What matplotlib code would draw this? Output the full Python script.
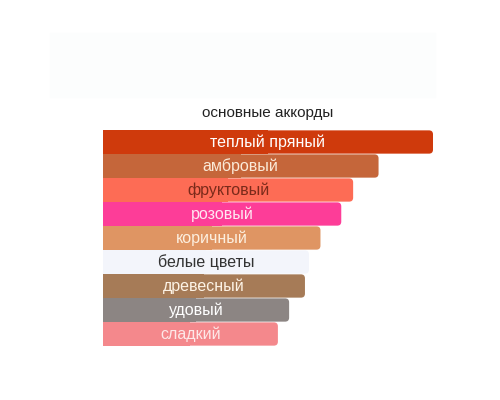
import matplotlib
matplotlib.use("Agg")
import matplotlib.pyplot as plt
from matplotlib.patches import FancyBboxPatch, Rectangle

plt.rcParams["font.family"] = ["Liberation Sans", "DejaVu Sans"]

# Accords and their relative strength (longest = 100)
accords = ["теплый пряный", "амбровый", "фруктовый", "розовый", "коричный",
           "белые цветы", "древесный", "удовый", "сладкий"]
values = [100, 83.5, 75.8, 72.2, 65.9, 62.4, 61.2, 56.4, 53.0]
colors = ["#cf3a0c", "#c5663a", "#fd6c55", "#fd3d98", "#df9563",
          "#f3f5fb", "#a67b57", "#8c8583", "#f4888c"]
text_colors = ["#ffffff", "#fbead8", "#7a2a1a", "#ffe6f2", "#fcefdf",
               "#333333", "#fdf3e6", "#ffffff", "#fde8e8"]
title = "основные аккорды"

W, H = 500, 400
fig = plt.figure(figsize=(W / 100, H / 100), dpi=100)

# faint panel at top
fig.patches.append(Rectangle((50 / W, 1 - 97 / H), 385 / W, 64 / H,
                             transform=fig.transFigure, color="#fcfdfd",
                             zorder=0))

left_px, right_px = 103, 433
top_px, bottom_px = 130, 346
ax = fig.add_axes([left_px / W, 1 - bottom_px / H,
                   (right_px - left_px) / W, (bottom_px - top_px) / H])
ax.set_xlim(0, 100)
ax.set_ylim(len(accords) - 0.5, -0.5)
ax.axis("off")

bars = ax.barh(range(len(accords)), values, height=0.97, color="none")

# px per data unit, to keep the corners round
xpx = (right_px - left_px) / 100
ypx = (bottom_px - top_px) / len(accords)
r = 4 / xpx

for b, c, tc, name in zip(bars, colors, text_colors, accords):
    x, y, w, h = b.get_x(), b.get_y(), b.get_width(), b.get_height()
    ax.add_patch(FancyBboxPatch((x, y), w, h,
                                boxstyle=f"round,pad=0,rounding_size={r}",
                                mutation_aspect=xpx / ypx,
                                facecolor=c, edgecolor="none"))
    ax.add_patch(Rectangle((x, y), w / 2, h, facecolor=c, edgecolor="none"))
    ax.text(x + w / 2, y + h / 2, name, ha="center", va="center",
            color=tc, fontsize=11.5)

fig.text(268 / W, 1 - 113 / H, title, ha="center", va="center",
         fontsize=11, color="#222222")

fig.savefig("out.png", dpi=100)
